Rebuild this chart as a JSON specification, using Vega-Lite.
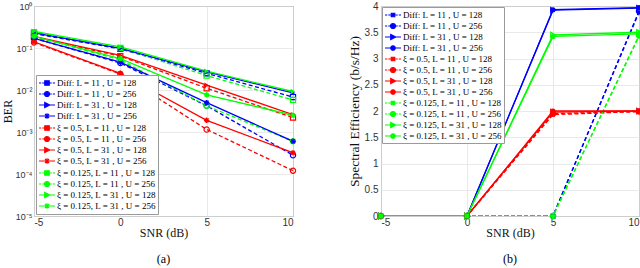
{
  "$schema": "https://vega.github.io/schema/vega-lite/v6.json",
  "padding": {"left": 0, "top": 0, "right": 0, "bottom": 0},
  "spacing": 47,
  "datasets": {
    "ber": [
      {"series": "Diff: L = 11 , U = 128", "snr": -5, "ber": 0.22}, {"series": "Diff: L = 11 , U = 128", "snr": 0, "ber": 0.095}, {"series": "Diff: L = 11 , U = 128", "snr": 5, "ber": 0.025}, {"series": "Diff: L = 11 , U = 128", "snr": 10, "ber": 0.0068},
      {"series": "Diff: L = 11 , U = 256", "snr": -5, "ber": 0.17}, {"series": "Diff: L = 11 , U = 256", "snr": 0, "ber": 0.044}, {"series": "Diff: L = 11 , U = 256", "snr": 5, "ber": 0.0042}, {"series": "Diff: L = 11 , U = 256", "snr": 10, "ber": 0.00028},
      {"series": "Diff: L = 31 , U = 128", "snr": -5, "ber": 0.23}, {"series": "Diff: L = 31 , U = 128", "snr": 0, "ber": 0.098}, {"series": "Diff: L = 31 , U = 128", "snr": 5, "ber": 0.027}, {"series": "Diff: L = 31 , U = 128", "snr": 10, "ber": 0.0085},
      {"series": "Diff: L = 31 , U = 256", "snr": -5, "ber": 0.17}, {"series": "Diff: L = 31 , U = 256", "snr": 0, "ber": 0.046}, {"series": "Diff: L = 31 , U = 256", "snr": 5, "ber": 0.005}, {"series": "Diff: L = 31 , U = 256", "snr": 10, "ber": 0.0006},
      {"series": "ξ = 0.5, L = 11 , U = 128", "snr": -5, "ber": 0.18}, {"series": "ξ = 0.5, L = 11 , U = 128", "snr": 0, "ber": 0.064}, {"series": "ξ = 0.5, L = 11 , U = 128", "snr": 5, "ber": 0.011}, {"series": "ξ = 0.5, L = 11 , U = 128", "snr": 10, "ber": 0.0022},
      {"series": "ξ = 0.5, L = 11 , U = 256", "snr": -5, "ber": 0.135}, {"series": "ξ = 0.5, L = 11 , U = 256", "snr": 0, "ber": 0.024}, {"series": "ξ = 0.5, L = 11 , U = 256", "snr": 5, "ber": 0.00115}, {"series": "ξ = 0.5, L = 11 , U = 256", "snr": 10, "ber": 0.00012},
      {"series": "ξ = 0.5, L = 31 , U = 128", "snr": -5, "ber": 0.19}, {"series": "ξ = 0.5, L = 31 , U = 128", "snr": 0, "ber": 0.067}, {"series": "ξ = 0.5, L = 31 , U = 128", "snr": 5, "ber": 0.013}, {"series": "ξ = 0.5, L = 31 , U = 128", "snr": 10, "ber": 0.0026},
      {"series": "ξ = 0.5, L = 31 , U = 256", "snr": -5, "ber": 0.14}, {"series": "ξ = 0.5, L = 31 , U = 256", "snr": 0, "ber": 0.025}, {"series": "ξ = 0.5, L = 31 , U = 256", "snr": 5, "ber": 0.0019}, {"series": "ξ = 0.5, L = 31 , U = 256", "snr": 10, "ber": 0.00032},
      {"series": "ξ = 0.125, L = 11 , U = 128", "snr": -5, "ber": 0.24}, {"series": "ξ = 0.125, L = 11 , U = 128", "snr": 0, "ber": 0.1}, {"series": "ξ = 0.125, L = 11 , U = 128", "snr": 5, "ber": 0.022}, {"series": "ξ = 0.125, L = 11 , U = 128", "snr": 10, "ber": 0.0058},
      {"series": "ξ = 0.125, L = 11 , U = 256", "snr": -5, "ber": 0.19}, {"series": "ξ = 0.125, L = 11 , U = 256", "snr": 0, "ber": 0.052}, {"series": "ξ = 0.125, L = 11 , U = 256", "snr": 5, "ber": 0.0042}, {"series": "ξ = 0.125, L = 11 , U = 256", "snr": 10, "ber": 0.0006},
      {"series": "ξ = 0.125, L = 31 , U = 128", "snr": -5, "ber": 0.25}, {"series": "ξ = 0.125, L = 31 , U = 128", "snr": 0, "ber": 0.106}, {"series": "ξ = 0.125, L = 31 , U = 128", "snr": 5, "ber": 0.028}, {"series": "ξ = 0.125, L = 31 , U = 128", "snr": 10, "ber": 0.0092},
      {"series": "ξ = 0.125, L = 31 , U = 256", "snr": -5, "ber": 0.19}, {"series": "ξ = 0.125, L = 31 , U = 256", "snr": 0, "ber": 0.056}, {"series": "ξ = 0.125, L = 31 , U = 256", "snr": 5, "ber": 0.0077}, {"series": "ξ = 0.125, L = 31 , U = 256", "snr": 10, "ber": 0.0025}
    ],
    "se": [
      {"series": "Diff: L = 11 , U = 128", "snr": -5, "se": 0}, {"series": "Diff: L = 11 , U = 128", "snr": 0, "se": 0}, {"series": "Diff: L = 11 , U = 128", "snr": 5, "se": 0}, {"series": "Diff: L = 11 , U = 128", "snr": 10, "se": 3.88},
      {"series": "Diff: L = 11 , U = 256", "snr": -5, "se": 0}, {"series": "Diff: L = 11 , U = 256", "snr": 0, "se": 0}, {"series": "Diff: L = 11 , U = 256", "snr": 5, "se": 0}, {"series": "Diff: L = 11 , U = 256", "snr": 10, "se": 3.9},
      {"series": "Diff: L = 31 , U = 128", "snr": -5, "se": 0}, {"series": "Diff: L = 31 , U = 128", "snr": 0, "se": 0}, {"series": "Diff: L = 31 , U = 128", "snr": 5, "se": 3.92}, {"series": "Diff: L = 31 , U = 128", "snr": 10, "se": 3.96},
      {"series": "Diff: L = 31 , U = 256", "snr": -5, "se": 0}, {"series": "Diff: L = 31 , U = 256", "snr": 0, "se": 0}, {"series": "Diff: L = 31 , U = 256", "snr": 5, "se": 3.93}, {"series": "Diff: L = 31 , U = 256", "snr": 10, "se": 3.97},
      {"series": "ξ = 0.5, L = 11 , U = 128", "snr": -5, "se": 0}, {"series": "ξ = 0.5, L = 11 , U = 128", "snr": 0, "se": 0}, {"series": "ξ = 0.5, L = 11 , U = 128", "snr": 5, "se": 1.93}, {"series": "ξ = 0.5, L = 11 , U = 128", "snr": 10, "se": 1.99},
      {"series": "ξ = 0.5, L = 11 , U = 256", "snr": -5, "se": 0}, {"series": "ξ = 0.5, L = 11 , U = 256", "snr": 0, "se": 0}, {"series": "ξ = 0.5, L = 11 , U = 256", "snr": 5, "se": 1.95}, {"series": "ξ = 0.5, L = 11 , U = 256", "snr": 10, "se": 1.99},
      {"series": "ξ = 0.5, L = 31 , U = 128", "snr": -5, "se": 0}, {"series": "ξ = 0.5, L = 31 , U = 128", "snr": 0, "se": 0}, {"series": "ξ = 0.5, L = 31 , U = 128", "snr": 5, "se": 1.98}, {"series": "ξ = 0.5, L = 31 , U = 128", "snr": 10, "se": 2.0},
      {"series": "ξ = 0.5, L = 31 , U = 256", "snr": -5, "se": 0}, {"series": "ξ = 0.5, L = 31 , U = 256", "snr": 0, "se": 0}, {"series": "ξ = 0.5, L = 31 , U = 256", "snr": 5, "se": 2.0}, {"series": "ξ = 0.5, L = 31 , U = 256", "snr": 10, "se": 2.0},
      {"series": "ξ = 0.125, L = 11 , U = 128", "snr": -5, "se": 0}, {"series": "ξ = 0.125, L = 11 , U = 128", "snr": 0, "se": 0}, {"series": "ξ = 0.125, L = 11 , U = 128", "snr": 5, "se": 0}, {"series": "ξ = 0.125, L = 11 , U = 128", "snr": 10, "se": 3.42},
      {"series": "ξ = 0.125, L = 11 , U = 256", "snr": -5, "se": 0}, {"series": "ξ = 0.125, L = 11 , U = 256", "snr": 0, "se": 0}, {"series": "ξ = 0.125, L = 11 , U = 256", "snr": 5, "se": 0}, {"series": "ξ = 0.125, L = 11 , U = 256", "snr": 10, "se": 3.44},
      {"series": "ξ = 0.125, L = 31 , U = 128", "snr": -5, "se": 0}, {"series": "ξ = 0.125, L = 31 , U = 128", "snr": 0, "se": 0}, {"series": "ξ = 0.125, L = 31 , U = 128", "snr": 5, "se": 3.45}, {"series": "ξ = 0.125, L = 31 , U = 128", "snr": 10, "se": 3.5},
      {"series": "ξ = 0.125, L = 31 , U = 256", "snr": -5, "se": 0}, {"series": "ξ = 0.125, L = 31 , U = 256", "snr": 0, "se": 0}, {"series": "ξ = 0.125, L = 31 , U = 256", "snr": 5, "se": 3.42}, {"series": "ξ = 0.125, L = 31 , U = 256", "snr": 10, "se": 3.47}
    ]
  },
  "hconcat": [
    {
      "width": 259,
      "height": 210,
      "data": {"name": "ber"},
      "title": {"text": "(a)", "orient": "bottom", "font": "Liberation Serif", "fontSize": 12, "fontWeight": "normal", "color": "#000", "offset": 16},
      "encoding": {
        "x": {"field": "snr", "type": "quantitative", "scale": {"domain": [-5, 10], "nice": false}, "axis": {"values": [-5, 0, 5, 10], "title": "SNR (dB)", "labelPadding": 1, "titlePadding": 0, "labelExpr": "datum.value + ''"}},
        "color": {"field": "series", "type": "nominal", "legend": {"title": null, "orient": "bottom-left", "offset": 2},
          "scale": {"domain": ["Diff: L = 11 , U = 128", "Diff: L = 11 , U = 256", "Diff: L = 31 , U = 128", "Diff: L = 31 , U = 256", "ξ = 0.5, L = 11 , U = 128", "ξ = 0.5, L = 11 , U = 256", "ξ = 0.5, L = 31 , U = 128", "ξ = 0.5, L = 31 , U = 256", "ξ = 0.125, L = 11 , U = 128", "ξ = 0.125, L = 11 , U = 256", "ξ = 0.125, L = 31 , U = 128", "ξ = 0.125, L = 31 , U = 256"],
                    "range": ["#0000ff", "#0000ff", "#0000ff", "#0000ff", "#ff0000", "#ff0000", "#ff0000", "#ff0000", "#00ff00", "#00ff00", "#00ff00", "#00ff00"]}}
      },
      "layer": [
        {
          "mark": {"type": "point", "filled": false, "size": 0, "strokeWidth": 1.2, "opacity": 1},
          "encoding": {
            "y": {"field": "ber", "type": "quantitative", "scale": {"type": "log", "domain": [0.00001, 1], "nice": false}, "axis": {"values": [0.00001, 0.0001, 0.001, 0.01, 0.1, 1], "title": "BER", "titlePadding": 1, "labelFontSize": 9, "labelPadding": 2, "labelExpr": "datum.value > 0.5 ? '10⁰' : datum.value > 0.05 ? '10⁻¹' : datum.value > 0.005 ? '10⁻²' : datum.value > 0.0005 ? '10⁻³' : datum.value > 0.00005 ? '10⁻⁴' : '10⁻⁵'"}},
            "shape": {"field": "series", "type": "nominal", "legend": {"title": null, "orient": "bottom-left", "offset": 2},
              "scale": {"domain": ["Diff: L = 11 , U = 128", "Diff: L = 11 , U = 256", "Diff: L = 31 , U = 128", "Diff: L = 31 , U = 256", "ξ = 0.5, L = 11 , U = 128", "ξ = 0.5, L = 11 , U = 256", "ξ = 0.5, L = 31 , U = 128", "ξ = 0.5, L = 31 , U = 256", "ξ = 0.125, L = 11 , U = 128", "ξ = 0.125, L = 11 , U = 256", "ξ = 0.125, L = 31 , U = 128", "ξ = 0.125, L = 31 , U = 256"],
                "range": [
                  "M-1.6,0h0.45M-0.95,0h0.45M0.5,0h0.45M1.15,0h0.45M-0.45,-0.45H0.45V0.45H-0.45Z",
                  "M-1.6,0h0.45M-0.95,0h0.45M0.5,0h0.45M1.15,0h0.45M0.5,0A0.5,0.5,0,1,1,-0.5,0A0.5,0.5,0,1,1,0.5,0Z",
                  "M-1.6,0h1.1M0.5,0h1.1M0.55,0L-0.45,-0.5L-0.45,0.5Z",
                  "M-1.6,0h1.1M0.5,0h1.1M-0.55,0H0.55M0,-0.55V0.55M-0.4,-0.4L0.4,0.4M-0.4,0.4L0.4,-0.4",
                  "M-1.6,0h0.45M-0.95,0h0.45M0.5,0h0.45M1.15,0h0.45M-0.45,-0.45H0.45V0.45H-0.45Z",
                  "M-1.6,0h0.45M-0.95,0h0.45M0.5,0h0.45M1.15,0h0.45M0.5,0A0.5,0.5,0,1,1,-0.5,0A0.5,0.5,0,1,1,0.5,0Z",
                  "M-1.6,0h1.1M0.5,0h1.1M0.55,0L-0.45,-0.5L-0.45,0.5Z",
                  "M-1.6,0h1.1M0.5,0h1.1M-0.55,0H0.55M0,-0.55V0.55M-0.4,-0.4L0.4,0.4M-0.4,0.4L0.4,-0.4",
                  "M-1.6,0h0.45M-0.95,0h0.45M0.5,0h0.45M1.15,0h0.45M-0.45,-0.45H0.45V0.45H-0.45Z",
                  "M-1.6,0h0.45M-0.95,0h0.45M0.5,0h0.45M1.15,0h0.45M0.5,0A0.5,0.5,0,1,1,-0.5,0A0.5,0.5,0,1,1,0.5,0Z",
                  "M-1.6,0h1.1M0.5,0h1.1M0.55,0L-0.45,-0.5L-0.45,0.5Z",
                  "M-1.6,0h1.1M0.5,0h1.1M-0.55,0H0.55M0,-0.55V0.55M-0.4,-0.4L0.4,0.4M-0.4,0.4L0.4,-0.4"
                ]}},
            "fill": {"field": "series", "type": "nominal", "legend": {"title": null, "orient": "bottom-left", "offset": 2},
              "scale": {"domain": ["Diff: L = 11 , U = 128", "Diff: L = 11 , U = 256", "Diff: L = 31 , U = 128", "Diff: L = 31 , U = 256", "ξ = 0.5, L = 11 , U = 128", "ξ = 0.5, L = 11 , U = 256", "ξ = 0.5, L = 31 , U = 128", "ξ = 0.5, L = 31 , U = 256", "ξ = 0.125, L = 11 , U = 128", "ξ = 0.125, L = 11 , U = 256", "ξ = 0.125, L = 31 , U = 128", "ξ = 0.125, L = 31 , U = 256"],
                "range": ["transparent", "transparent", "#0000ff", "transparent", "transparent", "transparent", "#ff0000", "transparent", "transparent", "transparent", "#00ff00", "transparent"]}}
          }
        },
        {
          "transform": [{"filter": "indexof(datum.series, 'L = 11') >= 0"}],
          "mark": {"type": "line", "strokeWidth": 1.3, "strokeDash": [4, 2.5], "clip": true},
          "encoding": {
            "y": {"field": "ber", "type": "quantitative", "axis": {"orient": "right", "values": [0.00002, 0.00003, 0.00004, 0.00005, 0.00006, 0.00007, 0.00008, 0.00009, 0.0002, 0.0003, 0.0004, 0.0005, 0.0006, 0.0007, 0.0008, 0.0009, 0.002, 0.003, 0.004, 0.005, 0.006, 0.007, 0.008, 0.009, 0.02, 0.03, 0.04, 0.05, 0.06, 0.07, 0.08, 0.09, 0.2, 0.3, 0.4, 0.5, 0.6, 0.7, 0.8, 0.9], "labels": false, "title": null, "gridDash": [1, 2], "gridColor": "#d8d8d8"}}
          }
        },
        {
          "transform": [{"filter": "indexof(datum.series, 'L = 31') >= 0"}],
          "mark": {"type": "line", "strokeWidth": 1.3, "clip": true},
          "encoding": {"y": {"field": "ber", "type": "quantitative", "axis": null}}
        },
        {
          "transform": [{"filter": "indexof(datum.series, 'L = 11 , U = 128') >= 0"}],
          "mark": {"type": "point", "shape": "square", "filled": false, "size": 26, "strokeWidth": 1.2, "opacity": 1},
          "encoding": {"y": {"field": "ber", "type": "quantitative", "axis": null}}
        },
        {
          "transform": [{"filter": "indexof(datum.series, 'L = 11 , U = 256') >= 0"}],
          "mark": {"type": "point", "shape": "circle", "filled": false, "size": 28, "strokeWidth": 1.2, "opacity": 1},
          "encoding": {"y": {"field": "ber", "type": "quantitative", "axis": null}}
        },
        {
          "transform": [{"filter": "indexof(datum.series, 'L = 31 , U = 128') >= 0"}],
          "mark": {"type": "point", "shape": "triangle-right", "filled": true, "size": 28, "opacity": 1},
          "encoding": {"y": {"field": "ber", "type": "quantitative", "axis": null}}
        },
        {
          "transform": [{"filter": "indexof(datum.series, 'L = 31 , U = 256') >= 0"}],
          "mark": {"type": "point", "shape": "M-1,0H1M0,-1V1M-0.7,-0.7L0.7,0.7M-0.7,0.7L0.7,-0.7", "filled": false, "size": 30, "strokeWidth": 1.3, "opacity": 1},
          "encoding": {"y": {"field": "ber", "type": "quantitative", "axis": null}}
        }
      ],
      "resolve": {"axis": {"y": "independent"}}
    },
    {
      "width": 258,
      "height": 210,
      "data": {"name": "se"},
      "title": {"text": "(b)", "orient": "bottom", "font": "Liberation Serif", "fontSize": 12, "fontWeight": "normal", "color": "#000", "offset": 16},
      "encoding": {
        "x": {"field": "snr", "type": "quantitative", "scale": {"domain": [-5, 10], "nice": false}, "axis": {"values": [-5, 0, 5, 10], "title": "SNR (dB)", "labelPadding": 1, "titlePadding": 0, "labelExpr": "datum.value + ''"}},
        "y": {"field": "se", "type": "quantitative", "scale": {"domain": [0, 4], "nice": false}, "axis": {"values": [0, 0.5, 1, 1.5, 2, 2.5, 3, 3.5, 4], "title": "Spectral Efficiency (b/s/Hz)", "titleFontSize": 13.5, "titlePadding": 3, "labelPadding": 3, "format": "~g"}},
        "color": {"field": "series", "type": "nominal", "legend": {"title": null, "orient": "top-left", "offset": 1},
          "scale": {"domain": ["Diff: L = 11 , U = 128", "Diff: L = 11 , U = 256", "Diff: L = 31 , U = 128", "Diff: L = 31 , U = 256", "ξ = 0.5, L = 11 , U = 128", "ξ = 0.5, L = 11 , U = 256", "ξ = 0.5, L = 31 , U = 128", "ξ = 0.5, L = 31 , U = 256", "ξ = 0.125, L = 11 , U = 128", "ξ = 0.125, L = 11 , U = 256", "ξ = 0.125, L = 31 , U = 128", "ξ = 0.125, L = 31 , U = 256"],
                    "range": ["#0000ff", "#0000ff", "#0000ff", "#0000ff", "#ff0000", "#ff0000", "#ff0000", "#ff0000", "#00ff00", "#00ff00", "#00ff00", "#00ff00"]}}
      },
      "layer": [
        {
          "mark": {"type": "point", "filled": false, "size": 0, "strokeWidth": 1.2, "opacity": 1},
          "encoding": {
            "shape": {"field": "series", "type": "nominal", "legend": {"title": null, "orient": "top-left", "offset": 1},
              "scale": {"domain": ["Diff: L = 11 , U = 128", "Diff: L = 11 , U = 256", "Diff: L = 31 , U = 128", "Diff: L = 31 , U = 256", "ξ = 0.5, L = 11 , U = 128", "ξ = 0.5, L = 11 , U = 256", "ξ = 0.5, L = 31 , U = 128", "ξ = 0.5, L = 31 , U = 256", "ξ = 0.125, L = 11 , U = 128", "ξ = 0.125, L = 11 , U = 256", "ξ = 0.125, L = 31 , U = 128", "ξ = 0.125, L = 31 , U = 256"],
                "range": [
                  "M-1.6,0h0.45M-0.95,0h0.45M0.5,0h0.45M1.15,0h0.45M-0.35,-0.35H0.35V0.35H-0.35Z",
                  "M-1.6,0h0.45M-0.95,0h0.45M0.5,0h0.45M1.15,0h0.45M0.5,0A0.5,0.5,0,1,1,-0.5,0A0.5,0.5,0,1,1,0.5,0Z",
                  "M-1.6,0h1.1M0.5,0h1.1M0.55,0L-0.45,-0.5L-0.45,0.5Z",
                  "M-1.6,0h1.1M0.5,0h1.1M0.45,0A0.45,0.45,0,1,1,-0.45,0A0.45,0.45,0,1,1,0.45,0Z",
                  "M-1.6,0h0.45M-0.95,0h0.45M0.5,0h0.45M1.15,0h0.45M-0.35,-0.35H0.35V0.35H-0.35Z",
                  "M-1.6,0h0.45M-0.95,0h0.45M0.5,0h0.45M1.15,0h0.45M0.5,0A0.5,0.5,0,1,1,-0.5,0A0.5,0.5,0,1,1,0.5,0Z",
                  "M-1.6,0h1.1M0.5,0h1.1M0.55,0L-0.45,-0.5L-0.45,0.5Z",
                  "M-1.6,0h1.1M0.5,0h1.1M0.45,0A0.45,0.45,0,1,1,-0.45,0A0.45,0.45,0,1,1,0.45,0Z",
                  "M-1.6,0h0.45M-0.95,0h0.45M0.5,0h0.45M1.15,0h0.45M-0.35,-0.35H0.35V0.35H-0.35Z",
                  "M-1.6,0h0.45M-0.95,0h0.45M0.5,0h0.45M1.15,0h0.45M0.5,0A0.5,0.5,0,1,1,-0.5,0A0.5,0.5,0,1,1,0.5,0Z",
                  "M-1.6,0h1.1M0.5,0h1.1M0.55,0L-0.45,-0.5L-0.45,0.5Z",
                  "M-1.6,0h1.1M0.5,0h1.1M0.45,0A0.45,0.45,0,1,1,-0.45,0A0.45,0.45,0,1,1,0.45,0Z"
                ]}},
            "fill": {"field": "series", "type": "nominal", "legend": {"title": null, "orient": "top-left", "offset": 1},
              "scale": {"domain": ["Diff: L = 11 , U = 128", "Diff: L = 11 , U = 256", "Diff: L = 31 , U = 128", "Diff: L = 31 , U = 256", "ξ = 0.5, L = 11 , U = 128", "ξ = 0.5, L = 11 , U = 256", "ξ = 0.5, L = 31 , U = 128", "ξ = 0.5, L = 31 , U = 256", "ξ = 0.125, L = 11 , U = 128", "ξ = 0.125, L = 11 , U = 256", "ξ = 0.125, L = 31 , U = 128", "ξ = 0.125, L = 31 , U = 256"],
                "range": ["#0000ff", "transparent", "transparent", "#0000ff", "#ff0000", "transparent", "transparent", "#ff0000", "#00ff00", "transparent", "transparent", "#00ff00"]}}
          }
        },
        {
          "transform": [{"filter": "indexof(datum.series, 'L = 11') >= 0"}],
          "mark": {"type": "line", "strokeWidth": 1.3, "strokeDash": [4, 2.5], "clip": true}
        },
        {
          "transform": [{"filter": "indexof(datum.series, 'L = 31') >= 0"}],
          "mark": {"type": "line", "strokeWidth": 1.3, "clip": true}
        },
        {
          "transform": [{"filter": "indexof(datum.series, 'L = 11 , U = 128') >= 0"}],
          "mark": {"type": "point", "shape": "square", "filled": true, "size": 16, "opacity": 1}
        },
        {
          "transform": [{"filter": "indexof(datum.series, 'L = 11 , U = 256') >= 0"}],
          "mark": {"type": "point", "shape": "circle", "filled": false, "size": 28, "strokeWidth": 1.2, "opacity": 1}
        },
        {
          "transform": [{"filter": "indexof(datum.series, 'L = 31 , U = 128') >= 0"}],
          "mark": {"type": "point", "shape": "triangle-right", "filled": false, "size": 28, "strokeWidth": 1.2, "opacity": 1}
        },
        {
          "transform": [{"filter": "indexof(datum.series, 'L = 31 , U = 256') >= 0"}],
          "mark": {"type": "point", "shape": "circle", "filled": true, "size": 26, "opacity": 1}
        }
      ]
    }
  ],
  "resolve": {
    "scale": {"color": "independent", "shape": "independent", "fill": "independent"},
    "legend": {"color": "independent", "shape": "independent", "fill": "independent"}
  },
  "config": {
    "view": {"stroke": "#7a7a7a", "strokeWidth": 1},
    "axis": {"labelFont": "Liberation Sans", "labelFontSize": 10, "labelColor": "#333", "titleFont": "Liberation Serif", "titleFontSize": 12, "titleFontWeight": "normal", "titleColor": "#111", "gridColor": "#e3e3e3", "gridWidth": 0.8, "domain": false, "ticks": false, "labelPadding": 3, "titlePadding": 1},
    "legend": {"labelFont": "Liberation Serif", "labelFontSize": 9, "labelColor": "#000", "symbolSize": 100, "rowPadding": -0.8, "padding": 2, "fillColor": "white", "strokeColor": "#9a9a9a", "labelLimit": 300, "symbolStrokeWidth": 1.2, "labelOffset": 4, "symbolOffset": 3}
  }
}
